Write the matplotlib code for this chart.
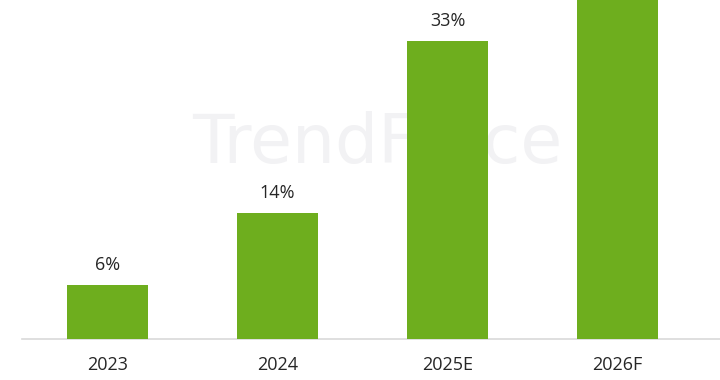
import matplotlib
matplotlib.use("Agg")
import matplotlib.pyplot as plt

categories = ["2023", "2024", "2025E", "2026F"]
values = [6, 14, 33, 40]
labels = ["6%", "14%", "33%", "40%"]

W, H = 720, 380
fig = plt.figure(figsize=(W / 100, H / 100), dpi=100)
fig.patch.set_facecolor("white")

px_per = 9.03
x0_data = -107.5 / 170
x1_data = (720 - 107.5) / 170
ax = fig.add_axes([0, (H - 339) / H, 1, 339 / H])
ax.set_xlim(x0_data, x1_data)
ymax = 339 / px_per
ax.set_ylim(0, ymax)
ax.axis("off")

# faint watermark behind bars
ax.text((192 - 107.5) / 170, (339 - 163) / px_per, "TrendForce", fontsize=49,
        fontweight="normal", color="#f2f2f4", family="DejaVu Sans",
        ha="left", va="baseline", zorder=1)

xs = list(range(len(categories)))
ax.bar(xs, values, width=81 / 170, color="#6eae1e", zorder=3)

# baseline
ax.plot([-0.503, x1_data], [0, 0], color="#d9d9d9", lw=1.2, zorder=2, clip_on=False)

for x, v, lab in zip(xs, values, labels):
    ly = v + 20 / px_per
    if ly < ymax - 1:
        ax.text(x, ly, lab, ha="center", va="center", fontsize=13,
                color="#262626", family="Open Sans")

for x, c in zip(xs, categories):
    ax.text(x, -26 / px_per, c, ha="center", va="center", fontsize=13,
            color="#262626", family="Open Sans", clip_on=False)

fig.savefig("out.png", dpi=100, facecolor="white")
